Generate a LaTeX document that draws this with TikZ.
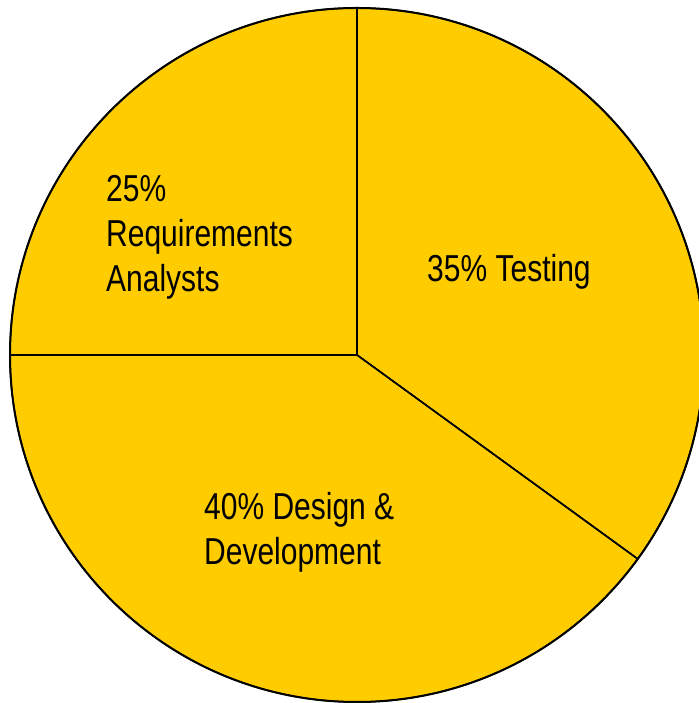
\documentclass[tikz,border=0pt]{standalone}
\usepackage{fontspec}
\setmainfont[FakeStretch=0.8]{Liberation Sans}
\definecolor{pieyellow}{HTML}{FFCC00}

\begin{document}
\begin{tikzpicture}[x=1pt,y=1pt]
    \tikzset{slice/.style={fill=pieyellow,draw=black,line width=1.5pt,line join=round},
             piecut/.style={draw=black,line width=1.5pt},
             piefont/.style={anchor=base west,inner sep=0pt,align=left,
                             font=\fontsize{37.5}{45}\selectfont}}
    \useasboundingbox (0,0) rectangle (698,703);
    \coordinate (ctr) at (357,348);
    % slices
    \fill[slice] (ctr) -- ++(90:347) arc (90:180:347) -- cycle;
    \fill[slice] (ctr) -- ++(90:347) arc (90:-36:347) -- cycle;
    \fill[slice] (ctr) -- ++(-36:347) arc (-36:-180:347) -- cycle;
    \draw[line width=2pt] (ctr) circle (347);
    \draw[piecut] (ctr) -- ++(90:347);
    \draw[piecut] (ctr) -- ++(180:347);
    \draw[piecut] (ctr) -- ++(-36:347);
    % labels (base = last line)
    \node[piefont] (req) at (106,411.5) {25\%\\Requirements\\Analysts};
    \node[piefont] (test) at (427,421) {35\% Testing};
    \node[piefont] (dev) at (204,138) {40\% Design \&\\Development};
\end{tikzpicture}
\end{document}
